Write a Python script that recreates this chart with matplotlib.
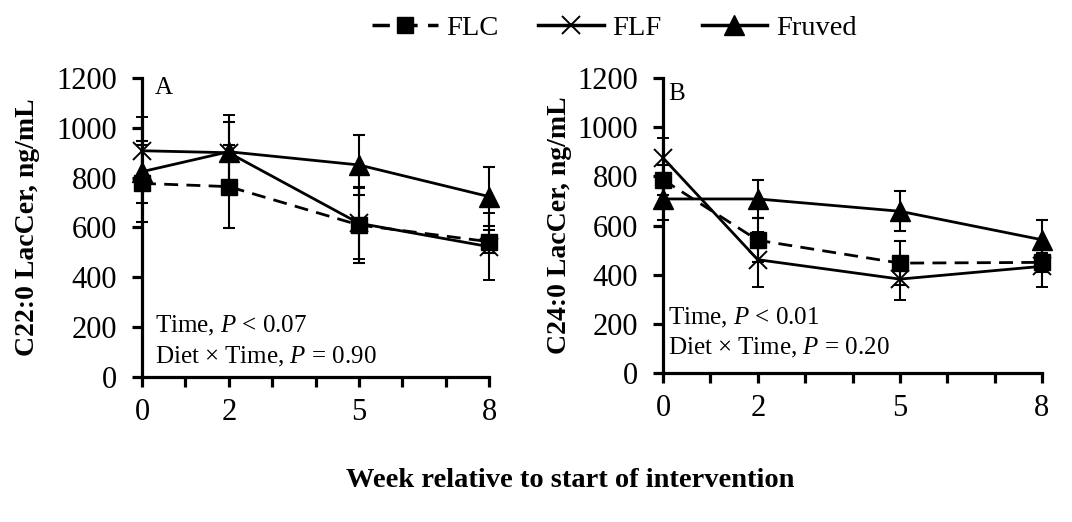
import numpy as np
import matplotlib
matplotlib.use('Agg')
import matplotlib.pyplot as plt
from matplotlib.lines import Line2D

plt.rcParams['font.family'] = ['Liberation Serif', 'DejaVu Serif']
plt.rcParams['mathtext.fontset'] = 'custom'
plt.rcParams['mathtext.it'] = 'Liberation Serif:italic'
plt.rcParams['mathtext.rm'] = 'Liberation Serif'

weeks = [0, 2, 5, 8]
groups = ['FLC', 'FLF', 'Fruved']

# panel A: C22:0 LacCer
a_flc = [777, 764, 610, 543]
a_flc_err = [154, 168, 151, 45]
a_flf = [908, 900, 617, 523]
a_flf_err = [137, 151, 143, 134]
a_fru = [824, 904, 851, 724]
a_fru_err = [125, 120, 122, 120]

# panel B: C24:0 LacCer
b_flc = [786, 540, 447, 450]
b_flc_err = [60, 90, 88, 40]
b_flf = [875, 461, 382, 434]
b_flf_err = [81, 111, 84, 84]
b_fru = [708, 708, 658, 542]
b_fru_err = [84, 78, 81, 79]

styles = {
    'FLC': dict(ls=(0, (5, 3)), marker='s', ms=12, mfc='black'),
    'FLF': dict(ls='-', marker='x', ms=13, mew=1.4),
    'Fruved': dict(ls='-', marker='^', ms=14, mfc='black'),
}

fig = plt.figure(figsize=(10.72, 5.22), dpi=100)
axA = fig.add_axes([0.1325, 0.2778, 0.3237, 0.5728])
axB = fig.add_axes([0.6185, 0.2854, 0.3535, 0.5652])


def draw(ax, series, ylabel, letter, lx, ly, t1, t2):
    for name, (vals, errs) in zip(groups, series):
        st = styles[name]
        ax.errorbar(weeks, vals, yerr=errs, color='black', lw=2,
                    elinewidth=1.5, capsize=4.5, capthick=1.5,
                    clip_on=False, zorder=3, **st)
    ax.set_xlim(0, 8)
    ax.set_ylim(0, 1200)
    ax.set_yticks(range(0, 1201, 200))
    ax.set_xticks(range(9))
    ax.set_xticklabels([str(i) if i in weeks else '' for i in range(9)])
    for s in ['top', 'right']:
        ax.spines[s].set_visible(False)
    for s in ['left', 'bottom']:
        ax.spines[s].set_linewidth(2.3)
    ax.tick_params(axis='both', labelsize=22, width=2.3, length=7,
                   direction='out')
    ax.tick_params(axis='y', pad=11)
    ax.tick_params(axis='x', pad=8)
    ax.set_ylabel(ylabel, fontsize=20, fontweight='bold')
    ax.text(lx, ly, letter, fontsize=18, va='center')
    ax.text(lx, t1[1], t1[0], fontsize=18, va='center')
    ax.text(lx, t2[1], t2[0], fontsize=18, va='center')


draw(axA, [(a_flc, a_flc_err), (a_flf, a_flf_err), (a_fru, a_fru_err)],
     'C22:0 LacCer, ng/mL', 'A', 0.3, 1160,
     ('Time, $P$ < 0.07', 205), ('Diet × Time, $P$ = 0.90', 82))
draw(axB, [(b_flc, b_flc_err), (b_flf, b_flf_err), (b_fru, b_fru_err)],
     'C24:0 LacCer, ng/mL', 'B', 0.1, 1135,
     ('Time, $P$ < 0.01', 225), ('Diet × Time, $P$ = 0.20', 103))
axA.yaxis.set_label_coords(-0.294, 0.5)
axB.yaxis.set_label_coords(-0.24, 0.5)

handles = [Line2D([], [], color='black', lw=2.5, **styles[g]) for g in groups]
fig.legend(handles, groups, loc='upper center', bbox_to_anchor=(0.573, 1.02),
           ncol=3, frameon=False, fontsize=20.5, handlelength=2.3,
           columnspacing=1.4, handletextpad=0.3)

fig.text(0.532, 0.08, 'Week relative to start of intervention', ha='center',
         va='center', fontsize=20.5, fontweight='bold')

fig.savefig('out.png', dpi=100)
